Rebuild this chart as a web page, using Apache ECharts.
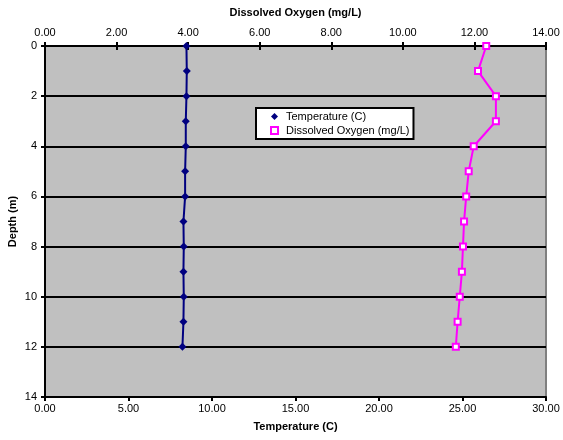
<!DOCTYPE html>
<html>
<head>
<meta charset="utf-8">
<script src="https://cdn.jsdelivr.net/npm/echarts@6/dist/echarts.min.js"></script>
<style>
  html, body { margin: 0; padding: 0; background: #ffffff; }
  #chart { width: 563px; height: 440px; }
</style>
</head>
<body>
<div id="chart"></div>
<script>
// Depth profile: temperature and dissolved oxygen against depth
const depths = [0, 1, 2, 3, 4, 5, 6, 7, 8, 9, 10, 11, 12];
const temperature = [8.47, 8.49, 8.47, 8.43, 8.43, 8.39, 8.39, 8.29, 8.31, 8.29, 8.31, 8.29, 8.23];
const dissolvedOxygen = [12.33, 12.10, 12.60, 12.60, 11.98, 11.84, 11.77, 11.71, 11.68, 11.65, 11.59, 11.53, 11.48];

const FONT = '"Liberation Sans", Arial, sans-serif';
const fmt2 = v => Number(v).toFixed(2);

const chart = echarts.init(document.getElementById('chart'), null, { renderer: 'canvas' });

chart.setOption({
  animation: false,
  backgroundColor: '#ffffff',
  textStyle: { fontFamily: FONT },
  grid: {
    left: 45, right: 17, top: 46, bottom: 43,
    outerBoundsMode: 'none',
    containLabel: false,
    show: true,
    backgroundColor: '#c0c0c0',
    borderColor: '#808080',
    borderWidth: 2
  },
  legend: {
    orient: 'vertical',
    left: 256, top: 108,
    padding: [3, 4, 3, 14],
    itemGap: 3,
    itemWidth: 7, itemHeight: 7,
    backgroundColor: '#ffffff',
    borderColor: '#000000',
    borderWidth: 2,
    borderRadius: 0,
    textStyle: { fontFamily: FONT, fontSize: 11, color: '#000000', padding: [0, 0, 0, 3] },
    data: [
      { name: 'Temperature (C)', icon: 'diamond' },
      { name: 'Dissolved Oxygen (mg/L)', icon: 'rect' }
    ]
  },
  xAxis: [
    {
      type: 'value', position: 'bottom',
      min: 0, max: 30, interval: 5,
      name: 'Temperature (C)', nameLocation: 'middle', nameGap: 24,
      nameTextStyle: { fontFamily: FONT, fontSize: 11, fontWeight: 'bold', color: '#000' },
      axisLine: { show: true, onZero: false, lineStyle: { color: '#000', width: 2 } },
      axisTick: { show: true, length: 4, lineStyle: { color: '#000', width: 2 } },
      axisLabel: { formatter: fmt2, fontFamily: FONT, fontSize: 11, color: '#000', margin: 6 },
      splitLine: { show: false }
    },
    {
      type: 'value', position: 'top',
      min: 0, max: 14, interval: 2,
      name: 'Dissolved Oxygen (mg/L)', nameLocation: 'middle', nameGap: 28,
      nameTextStyle: { fontFamily: FONT, fontSize: 11, fontWeight: 'bold', color: '#000' },
      axisLine: { show: true, onZero: false, lineStyle: { color: '#000', width: 2 } },
      axisTick: { show: true, length: 4, lineStyle: { color: '#000', width: 2 } },
      axisLabel: { formatter: fmt2, fontFamily: FONT, fontSize: 11, color: '#000', margin: 8 },
      splitLine: { show: false }
    },
    {
      // inner half of the crossing ticks on the top axis
      type: 'value', position: 'top',
      min: 0, max: 14, interval: 2,
      axisLine: { show: false },
      axisTick: { show: true, inside: true, length: 4, lineStyle: { color: '#000', width: 2 } },
      axisLabel: { show: false },
      splitLine: { show: false }
    }
  ],
  yAxis: [
    {
      type: 'value', inverse: true,
      min: 0, max: 14, interval: 2,
      name: 'Depth (m)', nameLocation: 'middle', nameGap: 27, nameRotate: 90,
      nameMoveOverlap: false,
      nameTextStyle: { fontFamily: FONT, fontSize: 11, fontWeight: 'bold', color: '#000' },
      axisLine: { show: true, onZero: false, lineStyle: { color: '#000', width: 2 } },
      axisTick: { show: true, length: 4, lineStyle: { color: '#000', width: 2 } },
      axisLabel: { fontFamily: FONT, fontSize: 11, color: '#000', margin: 8 },
      splitLine: { show: true, lineStyle: { color: '#000', width: 2 } }
    },
    {
      // inner half of the crossing ticks on the depth axis
      type: 'value', inverse: true, position: 'left',
      min: 0, max: 14, interval: 2,
      axisLine: { show: false },
      axisTick: { show: true, inside: true, length: 4, lineStyle: { color: '#000', width: 2 } },
      axisLabel: { show: false },
      splitLine: { show: false }
    }
  ],
  series: [
    {
      name: 'Temperature (C)',
      type: 'line',
      xAxisIndex: 0, yAxisIndex: 0,
      data: depths.map((d, i) => [temperature[i], d]),
      color: '#000080',
      symbol: 'diamond', symbolSize: 8,
      itemStyle: { color: '#000080' },
      lineStyle: { color: '#000080', width: 2 },
      z: 3
    },
    {
      name: 'Dissolved Oxygen (mg/L)',
      type: 'line',
      xAxisIndex: 1, yAxisIndex: 0,
      data: depths.map((d, i) => [dissolvedOxygen[i], d]),
      color: '#ff00ff',
      symbol: 'rect', symbolSize: 6,
      itemStyle: { color: '#ffffff', borderColor: '#ff00ff', borderWidth: 2 },
      lineStyle: { color: '#ff00ff', width: 2 },
      z: 3
    }
  ]
});
</script>
</body>
</html>
